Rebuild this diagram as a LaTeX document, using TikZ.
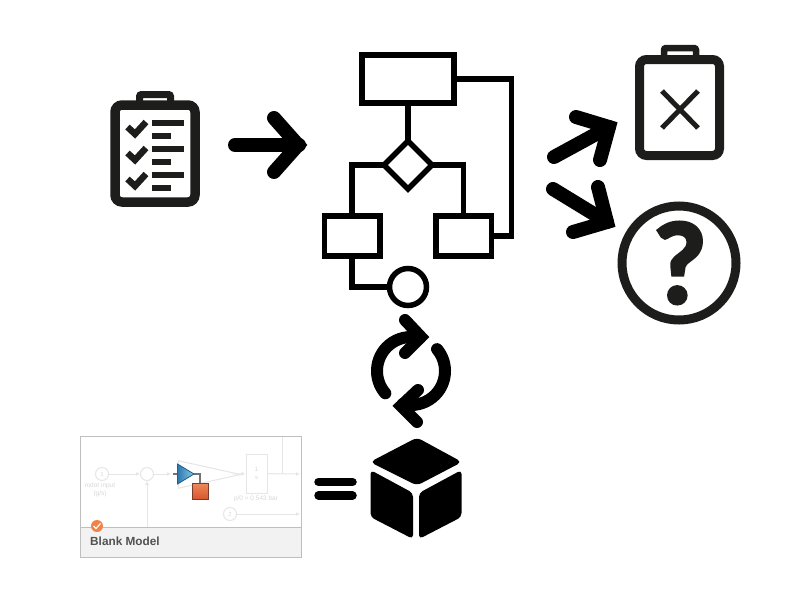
\documentclass[tikz,border=0pt]{standalone}
\usepackage{fontspec}
\setmainfont{Liberation Sans}
\newfontfamily\markfont[BoldFeatures={FakeBold=3.5}]{Lato}
\usetikzlibrary{shapes.geometric,arrows.meta}
\definecolor{icon}{HTML}{1D1D1B}
\definecolor{faint}{HTML}{E6E6E6}
\definecolor{fainttext}{HTML}{D8D8D8}
\definecolor{gainleft}{HTML}{2B78B0}
\definecolor{gainright}{HTML}{86CBE4}
\definecolor{blockup}{HTML}{EC8A5C}
\definecolor{blockdown}{HTML}{D8562C}
\definecolor{blockedge}{HTML}{7A3B2A}
\definecolor{badgecol}{HTML}{F0824A}
\tikzset{
    flowbox/.style={draw=black,line width=5.5pt,fill=white,inner sep=0pt,outer sep=0pt},
    flowline/.style={draw=black,line width=5.5pt},
    bigarrow/.style={line width=14pt,line cap=round,miter limit=10},
    faintline/.style={draw=faint,line width=1pt},
    faintarrow/.style={faintline,-{Latex[length=4pt,width=4pt]}},
    faintnode/.style={draw=faint,line width=1pt,circle,minimum size=13pt,inner sep=0pt,text=fainttext,font=\fontsize{6}{7}\selectfont}
}
\begin{document}
\begin{tikzpicture}[x=1pt,y=-1pt]
    \useasboundingbox (0,0) rectangle (800,600);
    % flowchart
    \node[flowbox,minimum width=92pt,minimum height=48pt] (start) at (408,79) {};
    \node[flowbox,diamond,minimum width=48pt,minimum height=48pt] (choice) at (408,165) {};
    \node[flowbox,minimum width=55.5pt,minimum height=40pt] (leftbox) at (352,236) {};
    \node[flowbox,minimum width=55.5pt,minimum height=40pt] (rightbox) at (463.5,236) {};
    \node[flowbox,circle,minimum size=37pt] (finish) at (408,287) {};
    \coordinate (loopcorner) at (511.7,79);
    \draw[flowline] (start) -- (choice);
    \draw[flowline] (choice.west) -| (leftbox.north);
    \draw[flowline] (choice.east) -| (rightbox.north);
    \draw[flowline] (start.east) -- (loopcorner) |- (rightbox.east);
    \draw[flowline] (leftbox.south) |- (finish.west);
    % requirements clipboard
    \draw[icon,line width=7pt,rounded corners=2pt] (139.5,105) -- (139.5,94.5) -- (170.5,94.5) -- (170.5,105);
    \draw[icon,line width=9.5pt,rounded corners=7pt] (115,105) rectangle (195,202);
    \foreach \dy in {0,26,52} {
        \draw[icon,line width=6.5pt] (127.5,127+\dy) -- (135,134+\dy) -- (146,122+\dy);
        \fill[icon] (152,120+\dy) rectangle (184,126+\dy);
        \fill[icon] (152,133+\dy) rectangle (171,139+\dy);
    }
    % arrows
    \draw[bigarrow] (235,145) -- (299,145);
    \draw[bigarrow] (274,118) -- (298,145) -- (274,172);
    \draw[bigarrow] (554,157) -- (609,127);
    \draw[bigarrow] (576,117) -- (609,127) -- (600,160);
    \draw[bigarrow] (553,189) -- (607,222);
    \draw[bigarrow] (598,187) -- (607,222) -- (573,232);
    % failed clipboard
    \draw[icon,line width=6.5pt,rounded corners=2pt] (664,58) -- (664,48) -- (696,48) -- (696,58);
    \draw[icon,line width=9pt,rounded corners=7pt] (639.5,59.5) rectangle (719.5,155.5);
    \draw[icon,line width=5pt] (662,91) -- (698,128);
    \draw[icon,line width=5pt] (698,91) -- (662,128);
    % unknown
    \draw[icon,line width=9pt] (679,263) circle (57);
    \node[text=icon,font=\markfont\bfseries\fontsize{110}{110}\selectfont,inner sep=0pt] (unknown) at (680,263) {?};
    % cycle
    \draw[line width=12pt,line cap=round] (411,371) ++(139:34) arc[start angle=139,end angle=285,radius=34];
    \draw[line width=12pt,line cap=round,miter limit=10] (405,320) -- (421,337) -- (405,353);
    \draw[line width=12pt,line cap=round] (411,371) ++(-40:34) arc[start angle=-40,end angle=104,radius=34];
    \draw[line width=12pt,line cap=round,miter limit=10] (418,390) -- (401,406) -- (417,422);
    % block
    \fill[rounded corners=5pt] (417,437.5) -- (462,462) -- (417,485.5) -- (370,462) -- cycle;
    \fill[rounded corners=4pt] (370.5,470) -- (413,493) -- (413,539) -- (370.5,517) -- cycle;
    \fill[rounded corners=4pt] (461.5,470) -- (419,493) -- (419,539) -- (461.5,517) -- cycle;
    \draw[line width=8.5pt,line cap=round] (318.5,482) -- (352.5,482);
    \draw[line width=8.5pt,line cap=round] (318.5,495.5) -- (352.5,495.5);
    % thumbnail
    \draw[draw=black!25,line width=1pt,fill=white] (80.5,436.5) rectangle (301.5,557);
    \node[faintnode] (inport) at (102,474) {1};
    \node[faintnode] (sum) at (147,474) {};
    \node[draw=faint,line width=1pt,isosceles triangle,isosceles triangle apex angle=25,minimum height=62pt,inner sep=0pt,outer sep=0pt] (gain) at (189.5,474.5) {};
    \node[draw=faint,line width=1pt,minimum width=21pt,minimum height=39pt,inner sep=0pt,text=fainttext,font=\fontsize{6}{7}\selectfont,align=center] (integrator) at (256.5,473.5) {1\\[1pt]s};
    \node[faintnode] (outport) at (230,514) {2};
    \coordinate (outend) at (300,474);
    \coordinate (topend) at (282,437);
    \coordinate (topjoin) at (282,474);
    \coordinate (bottomend) at (300,514);
    \coordinate (sumbelow) at (147,527);
    \draw[faintarrow] (inport) -- (sum);
    \draw[faintarrow] (sum) -- (171,474);
    \draw[faintarrow] (233,474) -- (integrator);
    \draw[faintarrow] (integrator) -- (outend);
    \draw[faintline] (topend) -- (topjoin);
    \draw[faintarrow] (outport) -- (bottomend);
    \draw[faintarrow] (sumbelow) -- (sum);
    \node[text=fainttext,font=\fontsize{6.5}{7.5}\selectfont,align=center] (inlabel) at (100,490) {mdot input\\(g/s)};
    \node[text=fainttext,font=\fontsize{6.5}{7.5}\selectfont] (gainlabel) at (256,499) {p/0 = 0.543 bar};
    \draw[black!55,line width=1.5pt] (173,474) -- (178,474);
    \draw[black!55,line width=1.5pt] (193,474) -- (200,474) -- (200,483);
    \fill[left color=gainleft,right color=gainright,draw=gainleft!80!black,line width=.8pt] (177.5,464) -- (194,474) -- (177.5,484) -- cycle;
    \node[draw=blockedge,line width=1pt,top color=blockup,bottom color=blockdown,minimum size=16pt,inner sep=0pt] (block) at (200.5,491) {};
    \fill[black!5] (81,527) rectangle (301,556.5);
    \draw[black!25,line width=1pt] (80.5,527) -- (301.5,527);
    \draw[black!25,line width=1pt] (80.5,436.5) rectangle (301.5,557);
    \node[circle,fill=badgecol,minimum size=12pt,inner sep=0pt] (badge) at (97,526) {};
    \draw[white,line width=1.2pt] (93.5,526) -- (96,528.5) -- (100.5,523.5);
    \node[anchor=west,inner sep=0pt,text=black!68,font=\bfseries\fontsize{11.8}{14}\selectfont] (title) at (90,541.5) {Blank Model};
\end{tikzpicture}
\end{document}
